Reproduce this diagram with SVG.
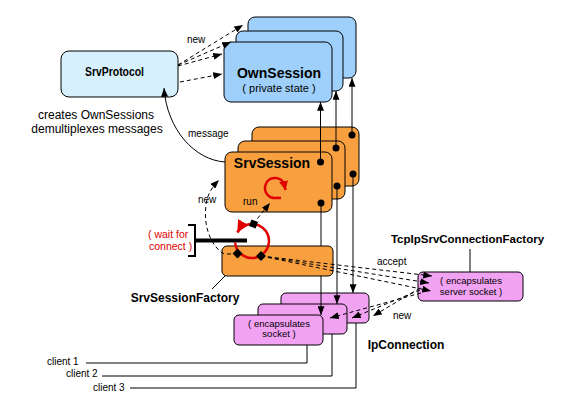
<svg xmlns="http://www.w3.org/2000/svg" width="564" height="407" viewBox="0 0 564 407">
<defs>
<style>
text{font-family:"Liberation Sans",Arial,sans-serif;fill:#000}
.lbl{font-size:10px}
.title{font-weight:bold}
.small{font-size:9.5px}
.red{fill:#e00000;font-size:10.5px}
.proto{fill:#d6f0fd;stroke:#000;stroke-width:1}
.own{fill:#9fd0fb;stroke:#000;stroke-width:1}
.orange{fill:#f8a040;stroke:#000;stroke-width:1}
.pink{fill:#f2a2f2;stroke:#000;stroke-width:1}
.solid{fill:none;stroke:#000;stroke-width:1}
.dash{fill:none;stroke:#000;stroke-width:1;stroke-dasharray:4 3}
.arc{fill:none;stroke:#e00000;stroke-width:2.5}
</style>
<marker id="ah" viewBox="0 0 10 8" refX="10" refY="4" markerWidth="9" markerHeight="7" orient="auto" markerUnits="userSpaceOnUse"><path d="M0,0 L10,4 L0,8 z" fill="#000"/></marker>
<marker id="rah" viewBox="0 0 10 10" refX="10" refY="5" markerWidth="9" markerHeight="9" orient="auto" markerUnits="userSpaceOnUse"><path d="M0,0 L10,5 L0,10 z" fill="#e00000"/></marker>
<marker id="rah2" viewBox="0 0 10 10" refX="10" refY="5" markerWidth="12" markerHeight="12" orient="auto" markerUnits="userSpaceOnUse"><path d="M0,0 L10,5 L0,10 z" fill="#e00000"/></marker>
</defs>
<rect width="564" height="407" fill="#fff"/>

<g id="SrvProtocol">
<rect class="proto" x="61" y="51" width="117" height="46" rx="8"/>
<text class="title" x="114.5" y="76" font-size="12.5" text-anchor="middle" textLength="59" lengthAdjust="spacingAndGlyphs">SrvProtocol</text>
</g>
<g id="note">
<text x="96" y="119" font-size="12" text-anchor="middle">creates OwnSessions</text>
<text x="97" y="133" font-size="12" text-anchor="middle">demultiplexes messages</text>
</g>

<g id="OwnSession">
<rect class="own" x="248" y="17" width="108" height="61" rx="7"/>
<rect class="own" x="236" y="31" width="107" height="60" rx="7"/>
<rect class="own" x="224" y="42" width="108" height="60" rx="7"/>
<text class="title" x="279" y="78" font-size="14" text-anchor="middle">OwnSession</text>
<text x="279" y="92" font-size="11" text-anchor="middle">( private state )</text>
</g>

<g id="SrvSession">
<rect class="orange" x="252" y="127" width="107" height="59" rx="7"/>
<rect class="orange" x="238" y="141" width="107" height="58" rx="7"/>
<rect class="orange" x="225" y="152" width="107" height="60" rx="7"/>
<text class="title" x="272" y="168" font-size="14" text-anchor="middle">SrvSession</text>
<text class="lbl" x="243" y="205">run</text>
<path class="arc" d="M281,198 L277.6,197.7 A10,10 0 0 1 265.6,184.6 A10,10 0 0 1 284.1,183.8 L285.5,190" marker-end="url(#rah)"/>
</g>

<g id="IpConnection">
<rect class="pink" x="281" y="293" width="88" height="30" rx="5"/>
<rect class="pink" x="258" y="304" width="89" height="30" rx="5"/>
<rect class="pink" x="234" y="315" width="89" height="30" rx="5"/>
<text class="small" x="279" y="327" text-anchor="middle">( encapsulates</text>
<text class="small" x="279" y="337" text-anchor="middle">socket )</text>
<text class="title" x="406" y="349" font-size="12" text-anchor="middle">IpConnection</text>
</g>

<g id="TcpIpSrvConnectionFactory">
<rect class="pink" x="418" y="272" width="105" height="29" rx="5"/>
<text class="small" x="471" y="284" text-anchor="middle">( encapsulates</text>
<text class="small" x="471" y="295" text-anchor="middle">server socket )</text>
<text class="title" x="467.5" y="243" font-size="11.5" text-anchor="middle">TcpIpSrvConnectionFactory</text>
<line class="solid" x1="470" y1="249" x2="470" y2="272"/>
</g>

<g id="connectors">
<path class="dash" d="M178,65 L243,25" marker-end="url(#ah)"/>
<path class="dash" d="M178,65 L231,42" marker-end="url(#ah)"/>
<path class="dash" d="M178,66 L222,54" marker-end="url(#ah)"/>
<path class="dash" d="M180,82 L222,74" marker-end="url(#ah)"/>
<text class="lbl" x="187" y="43">new</text>
<path class="solid" d="M225,162 C195,160 167,130 164,88" marker-end="url(#ah)"/>
<text class="lbl" x="188" y="137">message</text>
<path class="solid" d="M320.5,162 L320.5,102" marker-end="url(#ah)"/>
<path class="solid" d="M336,148 L336,91" marker-end="url(#ah)"/>
<path class="solid" d="M352,135 L352,78" marker-end="url(#ah)"/>
<path class="solid" d="M321,203 L321,246"/>
<path class="solid" d="M321,276 L321,315" marker-end="url(#ah)"/>
<path class="solid" d="M337,186 L337,304" marker-end="url(#ah)"/>
<path class="solid" d="M353,174 L353,293" marker-end="url(#ah)"/>
<path class="solid" d="M86,363 L307,363 L307,345"/>
<path class="solid" d="M102,376 L332,376 L332,334"/>
<path class="solid" d="M130,388 L356,388 L356,323"/>
<text class="lbl" x="47" y="365">client 1</text>
<text class="lbl" x="66" y="377">client 2</text>
<text class="lbl" x="93" y="391">client 3</text>
</g>

<g id="SrvSessionFactory">
<rect class="orange" x="222" y="246" width="111" height="30" rx="5"/>
<text class="title" x="185" y="302" font-size="12" text-anchor="middle">SrvSessionFactory</text>
<line class="solid" x1="212" y1="289" x2="225" y2="276"/>
<text class="red" x="148" y="238">( wait for</text>
<text class="red" x="149" y="250">connect )</text>
<path d="M188,225 L195,225 L195,256 L188,256" fill="none" stroke="#000" stroke-width="2"/>
<line x1="195" y1="240.5" x2="247" y2="240.5" stroke="#000" stroke-width="4"/>
<path class="arc" d="M235.1,242.5 A17,17 0 0 0 260.5,255.7 A17,17 0 0 0 262.9,228 A17,17 0 0 0 237.3,232.5" marker-end="url(#rah2)"/>
</g>

<g id="connectors2">
<path class="dash" d="M253,224 L270,203" marker-end="url(#ah)"/>
<path class="dash" d="M238,254 L224,254 C212,247 203,228 206,205 C207,195 212,187 219,180" marker-end="url(#ah)"/>
<text class="lbl" x="198" y="203">new</text>
<path class="dash" d="M261,256 L432,276" marker-end="url(#ah)"/>
<path class="dash" d="M261,256 L429,283" marker-end="url(#ah)"/>
<path class="dash" d="M261,256 L431,291" marker-end="url(#ah)"/>
<text class="lbl" x="377" y="265">accept</text>
<path class="dash" d="M420,288 L373,316" marker-end="url(#ah)"/>
<path class="dash" d="M420,290 L352,318" marker-end="url(#ah)"/>
<path class="dash" d="M421,293 L330,318" marker-end="url(#ah)"/>
<text class="lbl" x="393" y="319">new</text>
<g fill="#000">
<circle cx="320.5" cy="162" r="3.5"/>
<circle cx="321" cy="203" r="3.5"/>
<circle cx="336" cy="148" r="3.5"/>
<circle cx="337" cy="186" r="3.5"/>
<circle cx="352" cy="135" r="3.5"/>
<circle cx="353" cy="174" r="3.5"/>
<rect x="234" y="250" width="7" height="7" transform="rotate(45 237.5 253.5)"/>
<rect x="257.5" y="252.5" width="7" height="7" transform="rotate(45 261 256)"/>
<rect x="250" y="220.5" width="7" height="7" transform="rotate(20 253.5 224)"/>
</g>
</g>
</svg>
